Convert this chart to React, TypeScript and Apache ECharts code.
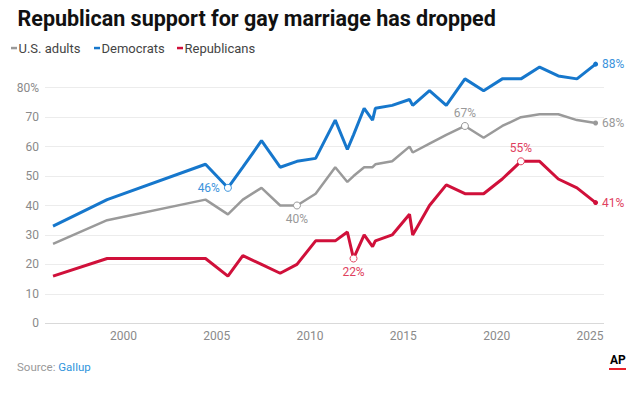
import React, { useEffect, useRef } from "react";
import * as echarts from "echarts";

// Poll dates (decimal years) and support (%)
const dates = [1996.23, 1999.13, 2004.4, 2005.6, 2006.4, 2007.4, 2008.4, 2009.3, 2010.3, 2011.35, 2012.0, 2012.33, 2012.9, 2013.35, 2013.5, 2014.4, 2015.33, 2015.5, 2016.4, 2017.3, 2018.3, 2019.3, 2020.3, 2021.3, 2022.3, 2023.3, 2024.3, 2025.3];
const usAdults = [27, 35, 42, 37, 42, 46, 40, 40, 44, 53, 48, 50, 53, 53, 54, 55, 60, 58, 61, 64, 67, 63, 67, 70, 71, 71, 69, 68];
const democrats = [33, 42, 54, 46, 53, 62, 53, 55, 56, 69, 59, 64, 73, 69, 73, 74, 76, 74, 79, 74, 83, 79, 83, 83, 87, 84, 83, 88];
const republicans = [16, 22, 22, 16, 23, 20, 17, 20, 28, 28, 31, 22, 30, 26, 28, 30, 37, 30, 40, 47, 44, 44, 49, 55, 55, 49, 46, 41];

const seriesNames = ["U.S. adults", "Democrats", "Republicans"];
const xTicks = [2000, 2005, 2010, 2015, 2020, 2025];
const yTicks = [0, 10, 20, 30, 40, 50, 60, 70, 80];

// annotated points: index -> label position
const usNotes: Record<number, string> = { 7: "bottom", 20: "top" };
const demNotes: Record<number, string> = { 3: "left" };
const repNotes: Record<number, string> = { 11: "bottom", 23: "top" };

const title = "Republican support for gay marriage has dropped";

const lineColors = ["#9a9a9a", "#1677cc", "#d0103a"];
const labelColors = ["#999999", "#3b93dc", "#e0405e"];

function buildData(vals: number[], notes: Record<number, string>, line: string, label: string) {
  const last = vals.length - 1;
  return vals.map((v, i) => {
    const item: any = { value: [dates[i], v] };
    if (notes[i]) {
      item.symbol = "circle";
      item.symbolSize = 7;
      item.itemStyle = { color: "#ffffff", borderColor: label, borderWidth: 1 };
      item.label = {
        show: true,
        position: notes[i],
        distance: notes[i] === "left" ? 4 : 3,
        color: label,
        fontSize: 12,
        fontFamily: "Roboto",
        formatter: (p: any) => p.value[1] + "%",
      };
    } else if (i === last) {
      item.symbol = "circle";
      item.symbolSize = 5;
      item.itemStyle = { color: line };
      item.label = {
        show: true,
        position: "right",
        distance: 4,
        color: label,
        fontSize: 12,
        fontFamily: "Roboto",
        formatter: (p: any) => p.value[1] + "%",
      };
    }
    return item;
  });
}

export default function App() {
  const ref = useRef<HTMLDivElement>(null);
  useEffect(() => {
    if (!ref.current) return;
    const chart = echarts.init(ref.current, null, { renderer: "svg" });
    const mk = (idx: number, vals: number[], notes: Record<number, string>, w: number) => ({
      name: seriesNames[idx],
      type: "line",
      data: buildData(vals, notes, lineColors[idx], labelColors[idx]),
      symbol: "circle",
      symbolSize: 0,
      showSymbol: true,
      clip: false,
      lineStyle: { color: lineColors[idx], width: w },
      itemStyle: { color: lineColors[idx] },
      emphasis: { disabled: true },
    });
    const legendIconX = [11, 94, 177];
    const legendTextX = [18.5, 101.5, 184.5];
    const legendGraphics: any[] = [];
    seriesNames.forEach((n, i) => {
      legendGraphics.push({
        type: "rect",
        shape: { x: legendIconX[i], y: 46.8, width: 6, height: 2.5 },
        style: { fill: lineColors[i] },
      });
      legendGraphics.push({
        type: "text",
        x: legendTextX[i],
        y: 48.5,
        style: { text: n, fill: "#444444", fontSize: 13, fontFamily: "Roboto", verticalAlign: "middle" },
      });
    });
    chart.setOption({
      animation: false,
      backgroundColor: "#ffffff",
      textStyle: { fontFamily: "Roboto" },
      title: {
        text: title,
        left: 12.5,
        top: 2,
        textStyle: { fontFamily: "Roboto", fontWeight: "bold", fontSize: 21.5, color: "#111111" },
      },
      grid: { left: 45, right: 36, top: 87.7, bottom: 75.7, outerBoundsMode: "none" },
      xAxis: {
        type: "value",
        min: 1995.8,
        max: 2025.75,
        splitLine: { show: false },
        axisTick: { show: false },
        axisLine: { show: false },
        axisLabel: {
          customValues: xTicks,
          color: "#8a8a8a",
          fontSize: 12,
          fontFamily: "Roboto",
          margin: 7,
          formatter: (v: number) => String(v),
        },
      },
      yAxis: {
        type: "value",
        min: 0,
        max: 80,
        interval: 10,
        axisLine: { show: false },
        axisTick: { show: false },
        splitLine: {
          lineStyle: { color: "#ececec", width: 1 },
        },
        axisLabel: {
          customValues: yTicks,
          color: "#8a8a8a",
          fontSize: 12,
          fontFamily: "Roboto",
          margin: 6,
          formatter: (v: number) => (v === 80 ? "80%" : String(v)),
        },
      },
      series: [
        mk(0, usAdults, usNotes, 2.5),
        mk(1, democrats, demNotes, 3),
        mk(2, republicans, repNotes, 3),
      ],
      graphic: [
        ...legendGraphics,
        {
          type: "line",
          shape: { x1: 45, y1: 323.5, x2: 604, y2: 323.5 },
          style: { stroke: "#d9d9d9", lineWidth: 1 },
          z: 1,
        },
        {
          type: "text",
          x: 17,
          y: 367,
          style: {
            text: "{a|Source: }{b|Gallup}",
            verticalAlign: "middle",
            rich: {
              a: { fill: "#999999", fontSize: 11.5, fontFamily: "Roboto" },
              b: { fill: "#2f95dc", fontSize: 11.5, fontFamily: "Roboto" },
            },
          },
        },
        {
          type: "text",
          x: 610,
          y: 360,
          style: { text: "AP", fill: "#000000", fontSize: 12, fontWeight: "bold", fontFamily: "Roboto", verticalAlign: "middle" },
        },
        {
          type: "rect",
          shape: { x: 609, y: 368, width: 17, height: 2 },
          style: { fill: "#e8202a" },
        },
      ],
    });
    return () => chart.dispose();
  }, []);
  return <div ref={ref} style={{ position: "fixed", left: 0, top: 0, width: 640, height: 399 }} />;
}
